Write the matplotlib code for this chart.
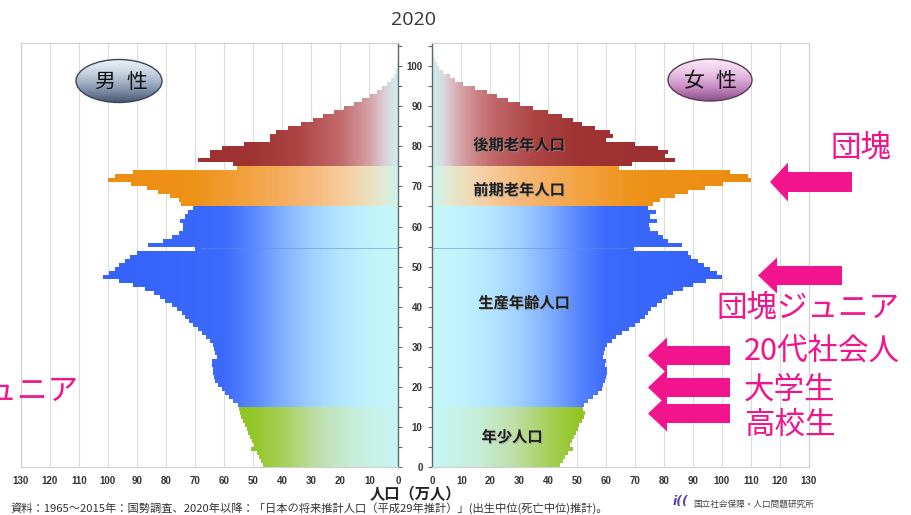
import numpy as np
import matplotlib
matplotlib.use("Agg")
import matplotlib.pyplot as plt
from matplotlib.colors import LinearSegmentedColormap
from matplotlib.path import Path
from matplotlib.patches import PathPatch, Ellipse, Polygon
import matplotlib.patheffects as pe

plt.rcParams['font.family'] = ['Noto Sans CJK JP', 'DejaVu Sans']

# ---------------- data (万人) ----------------
title = "2020"
ages = np.arange(0, 106)
male = [
    46.5, 47.3, 48.0, 48.8, 50.6, 49.6, 50.2, 50.9, 51.6, 52.2,
    52.9, 53.5, 54.1, 54.5, 55.0, 55.1, 56.8, 58.2, 59.7, 60.8,
    62.0, 63.1, 63.4, 63.7, 63.9, 64.2, 64.2, 62.5, 63.1, 63.4,
    63.7, 64.8, 66.2, 67.7, 68.8, 70.6, 71.9, 73.4, 74.6, 76.3,
    78.0, 80.3, 82.0, 84.1, 87.2, 91.2, 96.0, 101.5, 99.5, 97.5,
    96.0, 94.0, 92.2, 90.1, 70.0, 86.1, 80.9, 78.0, 75.4, 74.2,
    74.0, 75.1, 73.4, 72.3, 70.6, 74.8, 75.5, 78.6, 82.6, 86.6,
    92.0, 99.8, 97.5, 91.2, 55.6, 57.0, 68.8, 64.8, 64.8, 60.8,
    53.0, 44.2, 44.0, 42.0, 38.0, 33.5, 29.5, 25.8, 22.2, 18.7,
    15.3, 12.4, 9.6, 7.3, 5.5, 4.0, 2.6, 1.6, 0.9, 0.55,
    0.3, 0.18, 0.1, 0.06, 0.03, 0.02]
female = [
    44.1, 45.0, 46.0, 47.0, 48.7, 47.6, 48.2, 49.0, 49.7, 50.2,
    50.8, 51.6, 52.5, 52.8, 52.2, 52.3, 53.9, 55.6, 57.3, 58.5,
    59.0, 59.6, 60.0, 60.2, 60.2, 59.6, 60.0, 59.0, 59.2, 59.6,
    60.2, 61.9, 63.5, 65.5, 68.0, 70.0, 71.7, 73.4, 74.6, 75.7,
    77.5, 79.2, 80.9, 83.2, 86.6, 90.1, 94.5, 99.9, 98.2, 96.0,
    93.8, 91.8, 89.5, 88.4, 69.6, 86.1, 81.5, 79.7, 77.8, 75.1,
    74.8, 77.5, 75.3, 77.3, 74.5, 76.3, 78.6, 83.8, 88.4, 94.1,
    100.4, 110.2, 109.1, 102.8, 64.6, 68.8, 83.8, 80.3, 81.5, 78.0,
    70.0, 60.0, 62.5, 61.3, 56.2, 51.6, 48.7, 44.7, 40.0, 34.9,
    30.3, 26.2, 22.2, 18.8, 14.7, 10.7, 7.8, 6.1, 3.8, 2.3,
    1.5, 0.9, 0.55, 0.3, 0.15, 0.08]
group_names = ["年少人口", "生産年齢人口", "前期老年人口", "後期老年人口"]
group_bounds = [(0, 15), (15, 65), (65, 75), (75, 106)]
xticks = list(range(0, 131, 10))
age_ticks = list(range(0, 106, 5))
side_labels = [("男", "性"), ("女", "性")]
notes = ["団塊", "団塊ジュニア", "20代社会人", "大学生", "高校生"]
axis_label = "人口（万人）"
source = "資料：1965～2015年：国勢調査、2020年以降：「日本の将来推計人口（平成29年推計）」(出生中位(死亡中位)推計)。"
org = "国立社会保障・人口問題研究所"

# ---------------- styles ----------------
gradients = [
    [(0, '#C6F6F4'), (15, '#C8EEDC'), (28, '#BEE0A8'), (40, '#A6D058'), (50, '#92C628'), (130, '#8CC21C')],
    [(0, '#C6F7F8'), (10, '#C0F2FC'), (20, '#B4E6FF'), (30, '#A0D0FF'), (40, '#80B0FF'),
     (50, '#5A88FF'), (60, '#3C6AFC'), (130, '#2F5CF8')],
    [(0, '#CFF4EC'), (8, '#E8E4C8'), (18, '#F6CFA0'), (30, '#F7B879'), (50, '#F3A445'),
     (70, '#EE9218'), (130, '#EA8A0C')],
    [(0, '#CDEEF2'), (4, '#DCD4DC'), (10, '#D5A0A4'), (20, '#C26A6C'), (35, '#AC4444'),
     (50, '#A03434'), (130, '#962828')],
]
PINK = '#F2148C'
W, H = 912, 515
fig = plt.figure(figsize=(W / 100, H / 100), dpi=100)
fig.patch.set_facecolor('white')

y_bot, y_top = 467.3, 43.3
ax_l = fig.add_axes([20.7 / W, (H - y_bot) / H, (398.3 - 20.7) / W, (y_bot - y_top) / H])
ax_r = fig.add_axes([432.3 / W, (H - y_bot) / H, (808.7 - 432.3) / W, (y_bot - y_top) / H])


def gradient_fill(ax, bars, lo, hi, stops):
    sel = [b for b, a in zip(bars, ages) if lo <= a < hi]
    paths = [b.get_path().transformed(b.get_patch_transform()) for b in sel]
    cp = Path.make_compound_path(*paths)
    clip = PathPatch(cp, transform=ax.transData, facecolor='none', edgecolor='none')
    cmap = LinearSegmentedColormap.from_list('g', [(v / 130.0, c) for v, c in stops])
    grad = np.linspace(0, 1, 700)[None, :]
    im = ax.imshow(grad, cmap=cmap, vmin=0, vmax=1, extent=(0, 130, lo, hi),
                   origin='lower', aspect='auto', interpolation='bilinear', zorder=1)
    im.set_clip_path(clip)


for ax, vals, inner in ((ax_l, male, 'right'), (ax_r, female, 'left')):
    bars = ax.barh(ages, vals, height=1.0, align='edge', color='none', linewidth=0)
    for (lo, hi), stops in zip(group_bounds, gradients):
        gradient_fill(ax, bars, lo, hi, stops)
    # streak in the hinoeuma row
    ax.barh(ages[54] + 0.3, vals[54] * 0.97, height=0.4, align='edge',
            color='#5F8CF2', alpha=0.55, linewidth=0, zorder=2)
    ax.set_ylim(0, 105.66)
    ax.set_xticks(xticks)
    ax.set_xticklabels([str(t) for t in xticks], fontfamily='Liberation Sans',
                       fontweight='bold', fontsize=7, color='#333333')
    ax.tick_params(axis='x', length=0, pad=6)
    ax.xaxis.grid(True, color='#DCDCDC', linewidth=0.8)
    ax.set_axisbelow(True)
    for s in ax.spines.values():
        s.set_color('#CFCFCF')
        s.set_linewidth(0.8)
    ax.spines[inner].set_color('#5A6B6B')
    ax.spines[inner].set_linewidth(1.0)

ax_l.set_xlim(130, 0)
ax_r.set_xlim(0, 130)
ax_l.yaxis.tick_right()
ax_l.set_yticks(age_ticks)
ax_l.set_yticklabels([])
ax_l.tick_params(axis='y', direction='out', length=3, color='#5A6B6B')
ax_r.set_yticks(age_ticks)
ax_r.set_yticklabels([str(a) if a % 10 == 0 else '' for a in age_ticks],
                     fontfamily='Liberation Sans', fontweight='bold', fontsize=7, color='#333333')
ax_r.tick_params(axis='y', direction='out', length=3, pad=4, color='#5A6B6B')

# ---------------- overlay (pixel coordinates) ----------------
ov = fig.add_axes([0, 0, 1, 1], zorder=10)
ov.set_xlim(0, W)
ov.set_ylim(H, 0)
ov.axis('off')
ov.patch.set_alpha(0)

ov.text(414, 20, title, ha='center', va='center', fontsize=14, fontfamily='Open Sans', color='#333333')

shadow = [pe.SimplePatchShadow(offset=(0.8, -0.8), shadow_rgbFace='#999999', alpha=0.6), pe.Normal()]
for name, (x, y) in zip(group_names, [(512, 437), (524, 303), (519, 190), (519, 145)]):
    ov.text(x, y, name, ha='center', va='center', fontsize=11, fontweight='bold',
            color='#1E1E1E', path_effects=shadow)


def grad_ellipse(cx, cy, w, h, cols, edge, chars, xs):
    e = Ellipse((cx, cy), w, h, facecolor='none', edgecolor=edge, linewidth=1.0, zorder=3)
    ov.add_patch(e)
    cmap = LinearSegmentedColormap.from_list('e', cols)
    g = np.linspace(0, 1, 100)[:, None]
    im = ov.imshow(g, cmap=cmap, extent=(cx - w / 2, cx + w / 2, cy + h / 2, cy - h / 2),
                   origin='upper', aspect='auto', zorder=2, interpolation='bilinear')
    im.set_clip_path(e)
    for ch, x in zip(chars, xs):
        ov.text(x, cy + 1, ch, ha='center', va='center', fontsize=15, color='#111111', zorder=4)


grad_ellipse(119, 81, 86, 43, ['#EEF3F8', '#C6D2E0', '#8C9CB4', '#4A5A74'], '#3A4658',
             side_labels[0], [105, 137])
grad_ellipse(710, 80, 84, 42, ['#FBEAF8', '#EBC4E6', '#C88CC4', '#8A5288'], '#5A3A5A',
             side_labels[1], [694, 726])


def block_arrow(tip, y, tail, shaft, head, hlen):
    pts = [(tip, y), (tip + hlen, y - head / 2), (tip + hlen, y - shaft / 2), (tail, y - shaft / 2),
           (tail, y + shaft / 2), (tip + hlen, y + shaft / 2), (tip + hlen, y + head / 2)]
    ov.add_patch(Polygon(pts, closed=True, facecolor=PINK, edgecolor='none', zorder=5))


block_arrow(770, 182, 852, 20, 39, 18)
block_arrow(758, 275.5, 842, 19, 36, 19)
block_arrow(648, 355.5, 730, 19, 36, 19)
block_arrow(648, 387.5, 730, 19, 36, 19)
block_arrow(648, 413.5, 730, 19, 36, 19)

for txt, x, y in zip(notes, [831, 717, 744, 744, 744], [148, 308, 352, 390, 425]):
    ov.text(x, y, txt, ha='left', va='center', fontsize=22, color=PINK, zorder=6)
ov.text(79, 391, notes[1], ha='right', va='center', fontsize=22, color=PINK, zorder=6)

ov.text(415, 494, axis_label, ha='center', va='center', fontsize=11, fontweight='bold', color='#222222')
ov.text(10, 508, source, ha='left', va='center', fontsize=8.1, color='#333333')
ov.text(693, 504, org, ha='left', va='center', fontsize=6.2, color='#444444')
ov.text(680, 502, 'i((', ha='center', va='center', fontsize=9, fontstyle='italic',
        fontweight='bold', color='#5B3FB0', fontfamily='DejaVu Sans')

fig.savefig('out.png', dpi=100, facecolor='white')
